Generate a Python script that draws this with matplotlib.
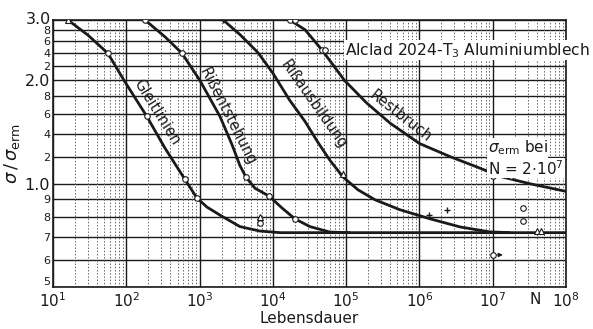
import matplotlib
matplotlib.use("Agg")
import matplotlib.pyplot as plt
import matplotlib.transforms as mtransforms
import numpy as np

# ---- data ----
gleit_x = [16, 30, 56, 96, 191, 337, 630, 915, 1260, 1900, 3550, 6600, 12600, 1e8]
gleit_y = [3.0, 2.71, 2.40, 1.98, 1.57, 1.27, 1.03, 0.91, 0.855, 0.81, 0.75, 0.728, 0.72, 0.72]

entst_x = [180, 337, 575, 1010, 1900, 2770, 3550, 4300, 5700, 8900, 13300, 20000, 32000, 60000, 112000]
entst_y = [3.0, 2.68, 2.40, 2.0, 1.57, 1.30, 1.13, 1.045, 0.97, 0.92, 0.85, 0.79, 0.75, 0.723, 0.72]

ausb_x = [2100, 3560, 6270, 10000, 17000, 27400, 41200, 60100, 91000, 145000, 247000, 540000, 1.4e6, 3.6e6, 9e6, 1.7e7]
ausb_y = [3.0, 2.72, 2.41, 2.10, 1.75, 1.52, 1.32, 1.17, 1.045, 0.96, 0.898, 0.84, 0.79, 0.748, 0.724, 0.72]

rest_x = [17000, 27500, 47000, 95000, 190000, 4e5, 1e6, 2.6e6, 6.7e6, 1.27e7, 3.2e7, 1e8]
rest_y = [3.0, 2.81, 2.45, 2.0, 1.72, 1.5, 1.31, 1.20, 1.11, 1.05, 1.0, 0.95]

circ_x = [56, 191, 180, 575, 630, 915, 4300, 8900, 20000, 6600, 17000, 20000, 47000, 52000, 1e7, 1.8e7, 2.6e7, 2.6e7, 1e7]
circ_y = [2.4, 1.57, 3.0, 2.4, 1.03, 0.91, 1.045, 0.92, 0.79, 0.77, 3.0, 3.0, 2.45, 2.45, 1.05, 1.05, 0.85, 0.78, 0.62]

tri_x = [16, 6600, 90000, 4e7, 4.6e7]
tri_y = [3.0, 0.80, 1.07, 0.73, 0.73]

plus_x = [2100, 1.35e6, 2.4e6]
plus_y = [3.0, 0.81, 0.84]

ytick_vals = [0.5, 0.6, 0.7, 0.8, 0.9, 1.0, 1.2, 1.4, 1.6, 1.8, 2.0, 2.2, 2.4, 2.6, 2.8, 3.0]
ytick_labels = ["5", "6", "7", "8", "9", "1.0", "2", "4", "6", "8", "2.0", "2", "4", "6", "8", "3.0"]
xtick_vals = [1e1, 1e2, 1e3, 1e4, 1e5, 1e6, 1e7, 1e8]
xtick_labels = [r"$10^{%d}$" % k for k in range(1, 9)]

ink = "#1a1a1a"

fig = plt.figure(figsize=(5.93, 3.29), dpi=100)
ax = fig.add_axes([53/593, 42/329, (566-53)/593, (287-20)/329])
ax.set_xscale("log")
ax.set_yscale("log")
ax.set_xlim(1e1, 1e8)
ax.set_ylim(0.5, 3.0)

# grid
for v in ytick_vals:
    ax.axhline(v, color=ink, lw=1.0, zorder=1)
for d in range(1, 8):
    base = 10 ** d
    ax.axvline(base, color=ink, lw=1.0, zorder=1)
    for m in range(2, 10):
        ax.axvline(base * m, color="#666666", lw=0.7, ls=(0, (1.5, 1.8)), zorder=1)
ax.axvline(1e8, color=ink, lw=1.0, zorder=1)

# curves
for xs, ys in [(gleit_x, gleit_y), (entst_x, entst_y), (ausb_x, ausb_y), (rest_x, rest_y)]:
    ax.plot(xs, ys, color=ink, lw=2.0, zorder=3, solid_capstyle="round", solid_joinstyle="round")

ax.plot(circ_x, circ_y, ls="none", marker="o", ms=4, mfc="white", mec=ink, mew=0.8, zorder=4)
ax.plot(tri_x, tri_y, ls="none", marker="^", ms=4, mfc="white", mec=ink, mew=0.8, zorder=4)
ax.plot(plus_x, plus_y, ls="none", marker="+", ms=5, color=ink, mew=1.0, zorder=4)
ax.annotate("", xy=(1.5e7, 0.62), xytext=(1.05e7, 0.62),
            arrowprops=dict(arrowstyle="-|>", color=ink, lw=0.8, mutation_scale=6))

# ticks
ax.set_yticks(ytick_vals)
ax.set_yticklabels([("" if v == 3.0 else t) for v, t in zip(ytick_vals, ytick_labels)])
ax.yaxis.set_minor_locator(matplotlib.ticker.NullLocator())
ax.set_xticks(xtick_vals)
ax.set_xticklabels(xtick_labels)
ax.xaxis.set_minor_locator(matplotlib.ticker.NullLocator())
ax.tick_params(length=0, pad=3, colors=ink)
ax.tick_params(axis="y", pad=2)
for lab, v in zip(ax.get_yticklabels(), ytick_vals):
    if v in (1.0, 2.0):
        lab.set_fontsize(11.5)
    else:
        lab.set_fontsize(8)
    if v == 0.5:
        lab.set_va("bottom")
for lab in ax.get_xticklabels():
    lab.set_fontsize(11)

# top label "3.0" drawn by hand so it does not collide with the "8" below it
trans = mtransforms.blended_transform_factory(ax.transAxes, ax.transData)
ax.text(-0.004, 2.93, ytick_labels[-1], transform=trans, ha="right", va="baseline",
        fontsize=11.5, color=ink, clip_on=False)

for s in ax.spines.values():
    s.set_color(ink)
    s.set_linewidth(1.2)

ax.set_xlabel("Lebensdauer", fontsize=11, color=ink, labelpad=1)
ax.set_ylabel(r"$\sigma\,/\,\sigma_{\rm erm}$", fontsize=13, color=ink, labelpad=2)

# curve labels
ax.text(263, 1.62, "Gleitlinien", rotation=-58, fontsize=10.5, ha="center", va="center", color=ink, zorder=5)
ax.text(2450, 1.57, "Rißentstehung", rotation=-63, fontsize=10.5, ha="center", va="center", color=ink, zorder=5)
ax.text(36000, 1.70, "Rißausbildung", rotation=-55, fontsize=10.5, ha="center", va="center", color=ink, zorder=5)
ax.text(560000, 1.57, "Restbruch", rotation=-38, fontsize=10.5, ha="center", va="center", color=ink, zorder=5)
ax.text(95000, 2.45, r"Alclad 2024-T$_3$ Aluminiumblech", fontsize=11.2, ha="left", va="center",
        color=ink, zorder=5, clip_on=False,
        bbox=dict(facecolor="white", edgecolor="none", pad=0.5))
ax.text(8.5e6, 1.27, r"$\sigma_{\rm erm}$ bei", fontsize=11, ha="left", va="center", color=ink, zorder=5,
        bbox=dict(facecolor="white", edgecolor="none", pad=0.3))
ax.text(8.5e6, 1.11, r"N = 2$\cdot$10$^7$", fontsize=11, ha="left", va="center", color=ink, zorder=5,
        bbox=dict(facecolor="white", edgecolor="none", pad=0.3))
ax.text(10 ** 7.58, 0.485, "N", fontsize=11, ha="center", va="top", color=ink, clip_on=False)

fig.savefig("out.png", dpi=100, facecolor="white")
